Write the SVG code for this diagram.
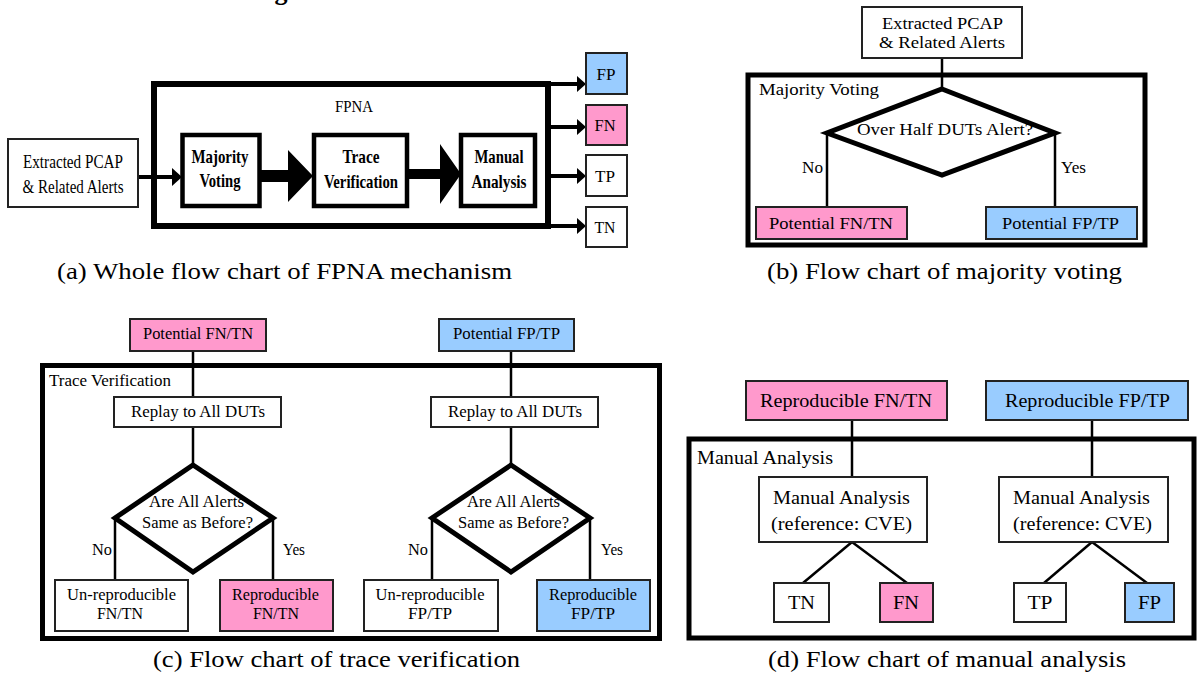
<svg xmlns="http://www.w3.org/2000/svg" width="1198" height="684" viewBox="0 0 1198 684" font-family="Liberation Serif, Times New Roman, serif">
<style>
text{font-family:'Liberation Serif',serif;fill:#000}
.m{text-anchor:middle}
.b{font-weight:bold}
.box{fill:#fff;stroke:#222;stroke-width:2}
.pink{fill:#ff99cc}
.blue{fill:#99ccff}
.heavy{fill:#fff;stroke:#000;stroke-width:4.5}
.frame{fill:none;stroke:#000;stroke-width:5}
.ln{fill:none;stroke:#000;stroke-width:2.5}
.ln4{fill:none;stroke:#000;stroke-width:4}
.dia{fill:#fff;stroke:#000;stroke-width:5;stroke-linejoin:miter}
.arr{fill:#000}
.cap{font-size:24px}
.fa{font-size:19px}
.fb{font-size:16.5px}
.fc{font-size:16px}
.fd{font-size:18.5px}
</style>
<rect width="1198" height="684" fill="#fff"/>
<text x="281" y="0" class="m b" font-size="26">g</text>

<!-- ===== Panel (a) ===== -->
<g id="a-fpna">
<rect x="154" y="84" width="394" height="142" fill="none" stroke="#000" stroke-width="6"/>
<text x="354" y="112" class="m" font-size="16" textLength="38" lengthAdjust="spacingAndGlyphs">FPNA</text>
</g>
<g id="a-connectors">
<line x1="138" y1="177" x2="173" y2="177" class="ln4"/>
<polygon class="arr" points="172,168 182,177 172,186"/>
<polygon class="arr" points="260,170 288,170 288,150 313,176 288,202 288,182 260,182"/>
<polygon class="arr" points="407,169 440,169 440,144 461,174 440,204 440,179 407,179"/>
<line x1="546" y1="84" x2="578" y2="84" class="ln4"/>
<polygon class="arr" points="577,76 586,84 577,92"/>
<line x1="546" y1="127" x2="578" y2="127" class="ln4"/>
<polygon class="arr" points="577,119 586,127 577,135"/>
<line x1="546" y1="176" x2="578" y2="176" class="ln4"/>
<polygon class="arr" points="577,168 586,176 577,184"/>
<line x1="546" y1="226" x2="578" y2="226" class="ln4"/>
<polygon class="arr" points="577,218 586,226 577,234"/>
</g>
<g id="a-input">
<rect x="8" y="139" width="130" height="68" class="box"/>
<text x="73" y="168" class="m fa" textLength="100" lengthAdjust="spacingAndGlyphs">Extracted PCAP</text>
<text x="73" y="193" class="m fa" textLength="101" lengthAdjust="spacingAndGlyphs">&amp; Related Alerts</text>
</g>
<g id="a-majority">
<rect x="182.5" y="135" width="77" height="71" class="heavy"/>
<text x="220" y="163" class="m b fa" textLength="57" lengthAdjust="spacingAndGlyphs">Majority</text>
<text x="220" y="187" class="m b fa" textLength="41" lengthAdjust="spacingAndGlyphs">Voting</text>
</g>
<g id="a-trace">
<rect x="314" y="135" width="93" height="71" class="heavy"/>
<text x="361" y="163" class="m b fa" textLength="37" lengthAdjust="spacingAndGlyphs">Trace</text>
<text x="361" y="188" class="m b fa" textLength="74" lengthAdjust="spacingAndGlyphs">Verification</text>
</g>
<g id="a-manual">
<rect x="461" y="135" width="74" height="71" class="heavy"/>
<text x="499" y="163" class="m b fa" textLength="49" lengthAdjust="spacingAndGlyphs">Manual</text>
<text x="499" y="188" class="m b fa" textLength="55" lengthAdjust="spacingAndGlyphs">Analysis</text>
</g>
<g id="a-fp"><rect x="586" y="53" width="41" height="41" class="box blue"/><text x="606" y="80" class="m" font-size="17" textLength="19" lengthAdjust="spacingAndGlyphs">FP</text></g>
<g id="a-fn"><rect x="586" y="105" width="41" height="40" class="box pink"/><text x="605" y="131" class="m" font-size="17" textLength="21" lengthAdjust="spacingAndGlyphs">FN</text></g>
<g id="a-tp"><rect x="586" y="155" width="41" height="41" class="box"/><text x="605" y="182" class="m" font-size="17" textLength="20" lengthAdjust="spacingAndGlyphs">TP</text></g>
<g id="a-tn"><rect x="586" y="207" width="41" height="40" class="box"/><text x="605" y="233" class="m" font-size="17" textLength="21" lengthAdjust="spacingAndGlyphs">TN</text></g>
<text x="284.5" y="279" class="m cap" textLength="455" lengthAdjust="spacingAndGlyphs">(a) Whole flow chart of FPNA mechanism</text>

<!-- ===== Panel (b) ===== -->
<g id="b-frame">
<rect x="748" y="75" width="397" height="170" class="frame"/>
<text x="759" y="95" class="fb" textLength="120" lengthAdjust="spacingAndGlyphs">Majority Voting</text>
</g>
<g id="b-connectors">
<line x1="942" y1="58" x2="942" y2="90" class="ln"/>
<line x1="827" y1="133" x2="827" y2="207" class="ln"/>
<line x1="1055" y1="133" x2="1055" y2="207" class="ln"/>
</g>
<g id="b-input">
<rect x="862" y="7" width="160" height="51" class="box"/>
<text x="942.5" y="29" class="m fb" textLength="121" lengthAdjust="spacingAndGlyphs">Extracted PCAP</text>
<text x="942" y="48" class="m fb" textLength="126" lengthAdjust="spacingAndGlyphs">&amp; Related Alerts</text>
</g>
<g id="b-decision">
<polygon points="942,89 1055,133 942,175 827,133" class="dia"/>
<text x="945" y="135" class="m fb" textLength="176" lengthAdjust="spacingAndGlyphs">Over Half DUTs Alert?</text>
</g>
<text x="802" y="173" class="fb" textLength="21" lengthAdjust="spacingAndGlyphs">No</text>
<text x="1061" y="173" class="fb" textLength="25" lengthAdjust="spacingAndGlyphs">Yes</text>
<g id="b-fntn">
<rect x="756" y="207" width="151" height="32" class="box pink"/>
<text x="831" y="229" class="m fb" textLength="124" lengthAdjust="spacingAndGlyphs">Potential FN/TN</text>
</g>
<g id="b-fptp">
<rect x="986" y="207" width="151" height="32" class="box blue"/>
<text x="1060.5" y="229" class="m fb" textLength="117" lengthAdjust="spacingAndGlyphs">Potential FP/TP</text>
</g>
<text x="944.5" y="279" class="m cap" textLength="355" lengthAdjust="spacingAndGlyphs">(b) Flow chart of majority voting</text>

<!-- ===== Panel (c) ===== -->
<g id="c-frame">
<rect x="42.5" y="365.5" width="617" height="273" class="frame"/>
<text x="49" y="386" class="fc" textLength="122" lengthAdjust="spacingAndGlyphs">Trace Verification</text>
</g>
<g id="c-connectors">
<line x1="193" y1="351" x2="193" y2="397" class="ln"/>
<line x1="193" y1="427" x2="193" y2="466" class="ln"/>
<line x1="115" y1="518" x2="115" y2="580" class="ln"/>
<line x1="273" y1="518" x2="273" y2="580" class="ln"/>
<line x1="511" y1="351" x2="511" y2="397" class="ln"/>
<line x1="511" y1="427" x2="511" y2="466" class="ln"/>
<line x1="432" y1="518" x2="432" y2="580" class="ln"/>
<line x1="590" y1="518" x2="590" y2="580" class="ln"/>
</g>
<g id="c-pot-fntn">
<rect x="130" y="319" width="136" height="32" class="box pink"/>
<text x="198" y="339" class="m fc" textLength="110" lengthAdjust="spacingAndGlyphs">Potential FN/TN</text>
</g>
<g id="c-pot-fptp">
<rect x="439" y="319" width="135" height="32" class="box blue"/>
<text x="506.5" y="339" class="m fc" textLength="107" lengthAdjust="spacingAndGlyphs">Potential FP/TP</text>
</g>
<g id="c-replay-1">
<rect x="114" y="397" width="167" height="30" class="box"/>
<text x="198" y="417" class="m fc" textLength="134" lengthAdjust="spacingAndGlyphs">Replay to All DUTs</text>
</g>
<g id="c-replay-2">
<rect x="431" y="397" width="167" height="30" class="box"/>
<text x="515" y="417" class="m fc" textLength="134" lengthAdjust="spacingAndGlyphs">Replay to All DUTs</text>
</g>
<g id="c-decision-1">
<polygon points="193,465 273,518 193,572 115,518" class="dia"/>
<text x="196.5" y="507" class="m fc" textLength="95" lengthAdjust="spacingAndGlyphs">Are All Alerts</text>
<text x="197.5" y="528" class="m fc" textLength="111" lengthAdjust="spacingAndGlyphs">Same as Before?</text>
</g>
<g id="c-decision-2">
<polygon points="511,465 590,518 511,572 432,518" class="dia"/>
<text x="513.5" y="507" class="m fc" textLength="93" lengthAdjust="spacingAndGlyphs">Are All Alerts</text>
<text x="513.5" y="528" class="m fc" textLength="111" lengthAdjust="spacingAndGlyphs">Same as Before?</text>
</g>
<text x="92" y="555" class="fc" textLength="20" lengthAdjust="spacingAndGlyphs">No</text>
<text x="283" y="555" class="fc" textLength="22" lengthAdjust="spacingAndGlyphs">Yes</text>
<text x="408" y="555" class="fc" textLength="20" lengthAdjust="spacingAndGlyphs">No</text>
<text x="601" y="555" class="fc" textLength="22" lengthAdjust="spacingAndGlyphs">Yes</text>
<g id="c-unrep-fntn">
<rect x="55" y="580" width="133" height="51" class="box"/>
<text x="121.5" y="600" class="m fc" textLength="109" lengthAdjust="spacingAndGlyphs">Un-reproducible</text>
<text x="120" y="619" class="m fc" textLength="46" lengthAdjust="spacingAndGlyphs">FN/TN</text>
</g>
<g id="c-rep-fntn">
<rect x="220" y="580" width="113" height="51" class="box pink"/>
<text x="275.5" y="600" class="m fc" textLength="87" lengthAdjust="spacingAndGlyphs">Reproducible</text>
<text x="276" y="619" class="m fc" textLength="46" lengthAdjust="spacingAndGlyphs">FN/TN</text>
</g>
<g id="c-unrep-fptp">
<rect x="364" y="580" width="134" height="51" class="box"/>
<text x="430" y="600" class="m fc" textLength="109" lengthAdjust="spacingAndGlyphs">Un-reproducible</text>
<text x="430" y="619" class="m fc" textLength="44" lengthAdjust="spacingAndGlyphs">FP/TP</text>
</g>
<g id="c-rep-fptp">
<rect x="537" y="580" width="113" height="51" class="box blue"/>
<text x="593" y="600" class="m fc" textLength="88" lengthAdjust="spacingAndGlyphs">Reproducible</text>
<text x="593" y="619" class="m fc" textLength="44" lengthAdjust="spacingAndGlyphs">FP/TP</text>
</g>
<text x="336.5" y="667" class="m cap" textLength="367" lengthAdjust="spacingAndGlyphs">(c) Flow chart of trace verification</text>

<!-- ===== Panel (d) ===== -->
<g id="d-frame">
<rect x="689" y="439" width="505" height="199" class="frame"/>
<text x="697" y="464" class="fd" textLength="136" lengthAdjust="spacingAndGlyphs">Manual Analysis</text>
</g>
<g id="d-connectors">
<line x1="852" y1="420" x2="852" y2="477" class="ln"/>
<line x1="1092" y1="420" x2="1092" y2="477" class="ln"/>
<line x1="852" y1="542" x2="803" y2="583" class="ln"/>
<line x1="852" y1="542" x2="907" y2="583" class="ln"/>
<line x1="1092" y1="542" x2="1044" y2="583" class="ln"/>
<line x1="1092" y1="542" x2="1147" y2="583" class="ln"/>
</g>
<g id="d-rep-fntn">
<rect x="746" y="381" width="201" height="39" class="box pink"/>
<text x="846" y="407" class="m fd" textLength="172" lengthAdjust="spacingAndGlyphs">Reproducible FN/TN</text>
</g>
<g id="d-rep-fptp">
<rect x="986" y="381" width="202" height="39" class="box blue"/>
<text x="1087.5" y="407" class="m fd" textLength="165" lengthAdjust="spacingAndGlyphs">Reproducible FP/TP</text>
</g>
<g id="d-ma-1">
<rect x="759" y="477" width="168" height="65" class="box"/>
<text x="841.5" y="504" class="m fd" textLength="137" lengthAdjust="spacingAndGlyphs">Manual Analysis</text>
<text x="841.5" y="530" class="m fd" textLength="141" lengthAdjust="spacingAndGlyphs">(reference: CVE)</text>
</g>
<g id="d-ma-2">
<rect x="999" y="477" width="169" height="65" class="box"/>
<text x="1081.5" y="504" class="m fd" textLength="137" lengthAdjust="spacingAndGlyphs">Manual Analysis</text>
<text x="1082.5" y="530" class="m fd" textLength="139" lengthAdjust="spacingAndGlyphs">(reference: CVE)</text>
</g>
<g id="d-tn"><rect x="774" y="583" width="55" height="39" class="box"/><text x="801.5" y="609" class="m fd" textLength="27" lengthAdjust="spacingAndGlyphs">TN</text></g>
<g id="d-fn"><rect x="880" y="583" width="53" height="39" class="box pink"/><text x="906" y="609" class="m fd" textLength="26" lengthAdjust="spacingAndGlyphs">FN</text></g>
<g id="d-tp"><rect x="1014" y="583" width="52" height="39" class="box"/><text x="1040" y="609" class="m fd" textLength="25" lengthAdjust="spacingAndGlyphs">TP</text></g>
<g id="d-fp"><rect x="1125" y="583" width="49" height="39" class="box blue"/><text x="1149.5" y="609" class="m fd" textLength="23" lengthAdjust="spacingAndGlyphs">FP</text></g>
<text x="947" y="667" class="m cap" textLength="358" lengthAdjust="spacingAndGlyphs">(d) Flow chart of manual analysis</text>
</svg>
